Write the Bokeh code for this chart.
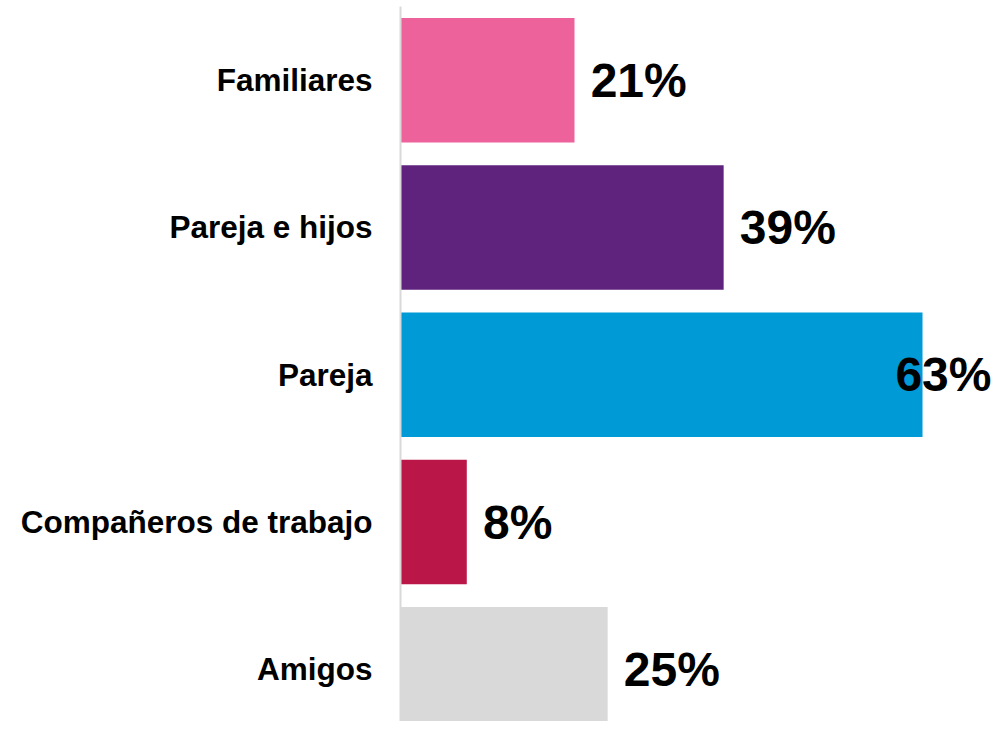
from bokeh.plotting import figure
from bokeh.models import Range1d, FixedTicker, ColumnDataSource
from bokeh.embed import file_html
from bokeh.resources import INLINE
from bokeh.core.properties import value

# ---- data ----
categories = ["Familiares", "Pareja e hijos", "Pareja", "Compañeros de trabajo", "Amigos"]
percent = [21, 39, 63, 8, 25]
colors = ["#EE629C", "#5F237E", "#009AD6", "#BA1648", "#D9D9D9"]
labels = [f"{v}%" for v in percent]

# ---- layout / style ----
W, H = 991, 721
LEFT, TOP = 400, 6
PX_PER_UNIT = 8.286
SLOT_PX = 147.3
X_MAX = (W - LEFT) / PX_PER_UNIT
Y_BOTTOM = -0.5 + (H - TOP) / SLOT_PX
GAP = 1.95
LABEL_W = 11.6
positions = list(range(len(categories)))
label_x = [min(v + GAP, X_MAX - LABEL_W) for v in percent]

src = ColumnDataSource(dict(y=positions, right=percent, color=colors,
                            lx=label_x, label=labels))

p = figure(width=W, height=H, output_backend="svg", toolbar_location=None,
           x_range=Range1d(0, X_MAX), y_range=Range1d(Y_BOTTOM, -0.5),
           x_axis_location=None,
           min_border_left=LEFT, min_border_right=0, min_border_top=TOP, min_border_bottom=0)
p.outline_line_color = None
p.xgrid.visible = False
p.ygrid.visible = False
p.background_fill_color = "white"
p.border_fill_color = "white"

p.hbar(y="y", left=0, right="right", height=0.845, fill_color="color",
       line_color=None, source=src)

p.text(x="lx", y="y", text="label", source=src,
       text_font=value("Liberation Sans"), text_font_style="bold",
       text_font_size="48px", text_color="black",
       text_align="left", text_baseline="middle")

ax = p.yaxis[0]
ax.ticker = FixedTicker(ticks=positions)
ax.major_label_overrides = {i: c for i, c in zip(positions, categories)}
ax.major_tick_line_color = None
ax.minor_tick_line_color = None
ax.major_tick_out = 0
ax.major_tick_in = 0
ax.axis_line_color = "#D9D9D9"
ax.axis_line_width = 2
ax.major_label_standoff = 28
ax.major_label_text_font = "Liberation Sans"
ax.major_label_text_font_style = "bold"
ax.major_label_text_font_size = "31.5px"
ax.major_label_text_color = "black"

open("out.html", "w").write(file_html(p, INLINE))
